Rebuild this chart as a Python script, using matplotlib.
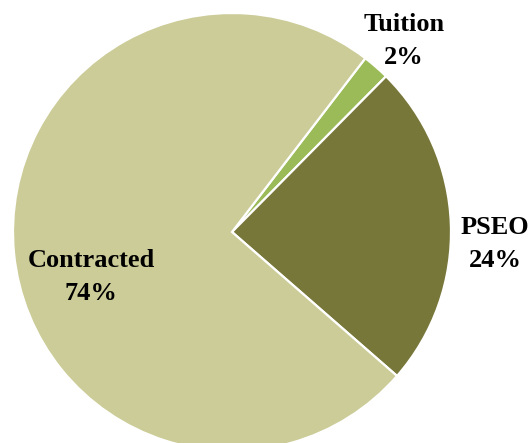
import matplotlib.pyplot as plt

# Funding source shares (%)
labels = ["Tuition", "PSEO", "Contracted"]
shares = [2, 24, 74]
colors = ["#9BBB59", "#78773A", "#CCCC99"]

# label anchor points (pixel space of the figure)
label_xy = {
    "Tuition": (404, 402),
    "PSEO": (495, 199),
    "Contracted": (91, 166),
}

plt.rcParams["font.family"] = ["Liberation Serif", "DejaVu Serif"]

W, H = 532, 443
fig = plt.figure(figsize=(W / 100, H / 100), dpi=100)
ax = fig.add_axes([0, 0, 1, 1])

ax.pie(
    shares,
    colors=colors,
    startangle=52.5,
    counterclock=False,
    center=(232, H - 232),
    radius=219,
    wedgeprops=dict(edgecolor="white", linewidth=1.6),
)

for name, val in zip(labels, shares):
    x, y = label_xy[name]
    ax.text(x, y, f"{name}\n{val}%", ha="center", va="center",
            fontsize=19, fontweight="bold", linespacing=1.55, color="black")

ax.set_xlim(0, W)
ax.set_ylim(0, H)
ax.set_aspect("equal")
ax.axis("off")

fig.savefig("out.png", dpi=100)
